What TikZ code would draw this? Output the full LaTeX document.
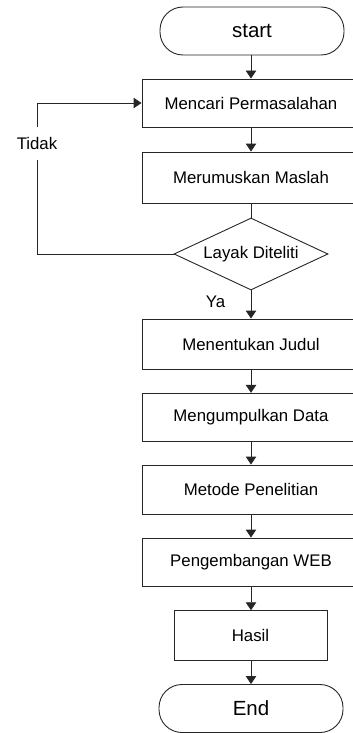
\documentclass[tikz,border=0pt]{standalone}
\usepackage{fontspec}
\setmainfont{Liberation Sans}
\usetikzlibrary{arrows.meta,shapes.geometric}
\begin{document}
\begin{tikzpicture}[x=1pt,y=-1pt,
  line width=0.9pt,
  every node/.style={font=\fontsize{16.8}{19}\selectfont, text=black},
  procbox/.style={draw=black!85, rectangle, minimum width=218pt, inner sep=0pt},
  termbox/.style={draw=black!85, rectangle, rounded corners=23pt, minimum width=184pt, minimum height=48pt, inner sep=0pt, font=\fontsize{20.5}{24}\selectfont},
  decbox/.style={draw=black!85, diamond, aspect=2.1, inner sep=0pt, minimum width=154pt, minimum height=72pt},
  arr/.style={draw=black!85, -{Triangle[width=10.5pt,length=8pt]}},
  plain/.style={draw=black!85},
  lbl/.style={inner sep=1pt}
]
\useasboundingbox (0,0) rectangle (353,733);
\node[termbox] (start) at (252,31) {start};
\node[procbox, minimum height=48pt] (m1) at (251,103) {Mencari Permasalahan};
\node[procbox, minimum height=51pt] (m2) at (251,177.5) {Merumuskan Maslah};
\node[decbox] (dia) at (251,254) {Layak Diteliti};
\node[procbox, minimum height=50pt] (m3) at (251,344) {Menentukan Judul};
\node[procbox, minimum height=48.4pt] (m4) at (251,417.5) {Mengumpulkan Data};
\node[procbox, minimum height=49pt] (m5) at (251,489.5) {Metode Penelitian};
\node[procbox, minimum height=48pt] (m6) at (251,562) {Pengembangan WEB};
\node[procbox, minimum width=153pt, minimum height=50pt] (hasil) at (250.5,635.7) {Hasil};
\node[termbox] (end) at (251,708.5) {End};
\coordinate (loopx) at (37.7,0);

\draw[arr] (start.south -| m1.north) -- (m1.north);
\draw[arr] (m1) -- (m2);
\draw[plain] (m2.south) -- (dia.north);
\draw[arr] (dia.south) -- (m3.north);
\draw[arr] (m3) -- (m4);
\draw[arr] (m4) -- (m5);
\draw[arr] (m5) -- (m6);
\draw[arr] (m6.south) -- (hasil.north -| m6.south);
\draw[arr] (hasil.south -| m6.south) -- (end.north -| m6.south);
\draw[arr] (dia.west) -- (dia.west -| loopx) |- (m1.west);

\node[lbl, fill=white, minimum height=33pt] (tidak) at (37,143.5) {Tidak};
\node[lbl] (ya) at (215.5,302) {Ya};
\end{tikzpicture}
\end{document}
